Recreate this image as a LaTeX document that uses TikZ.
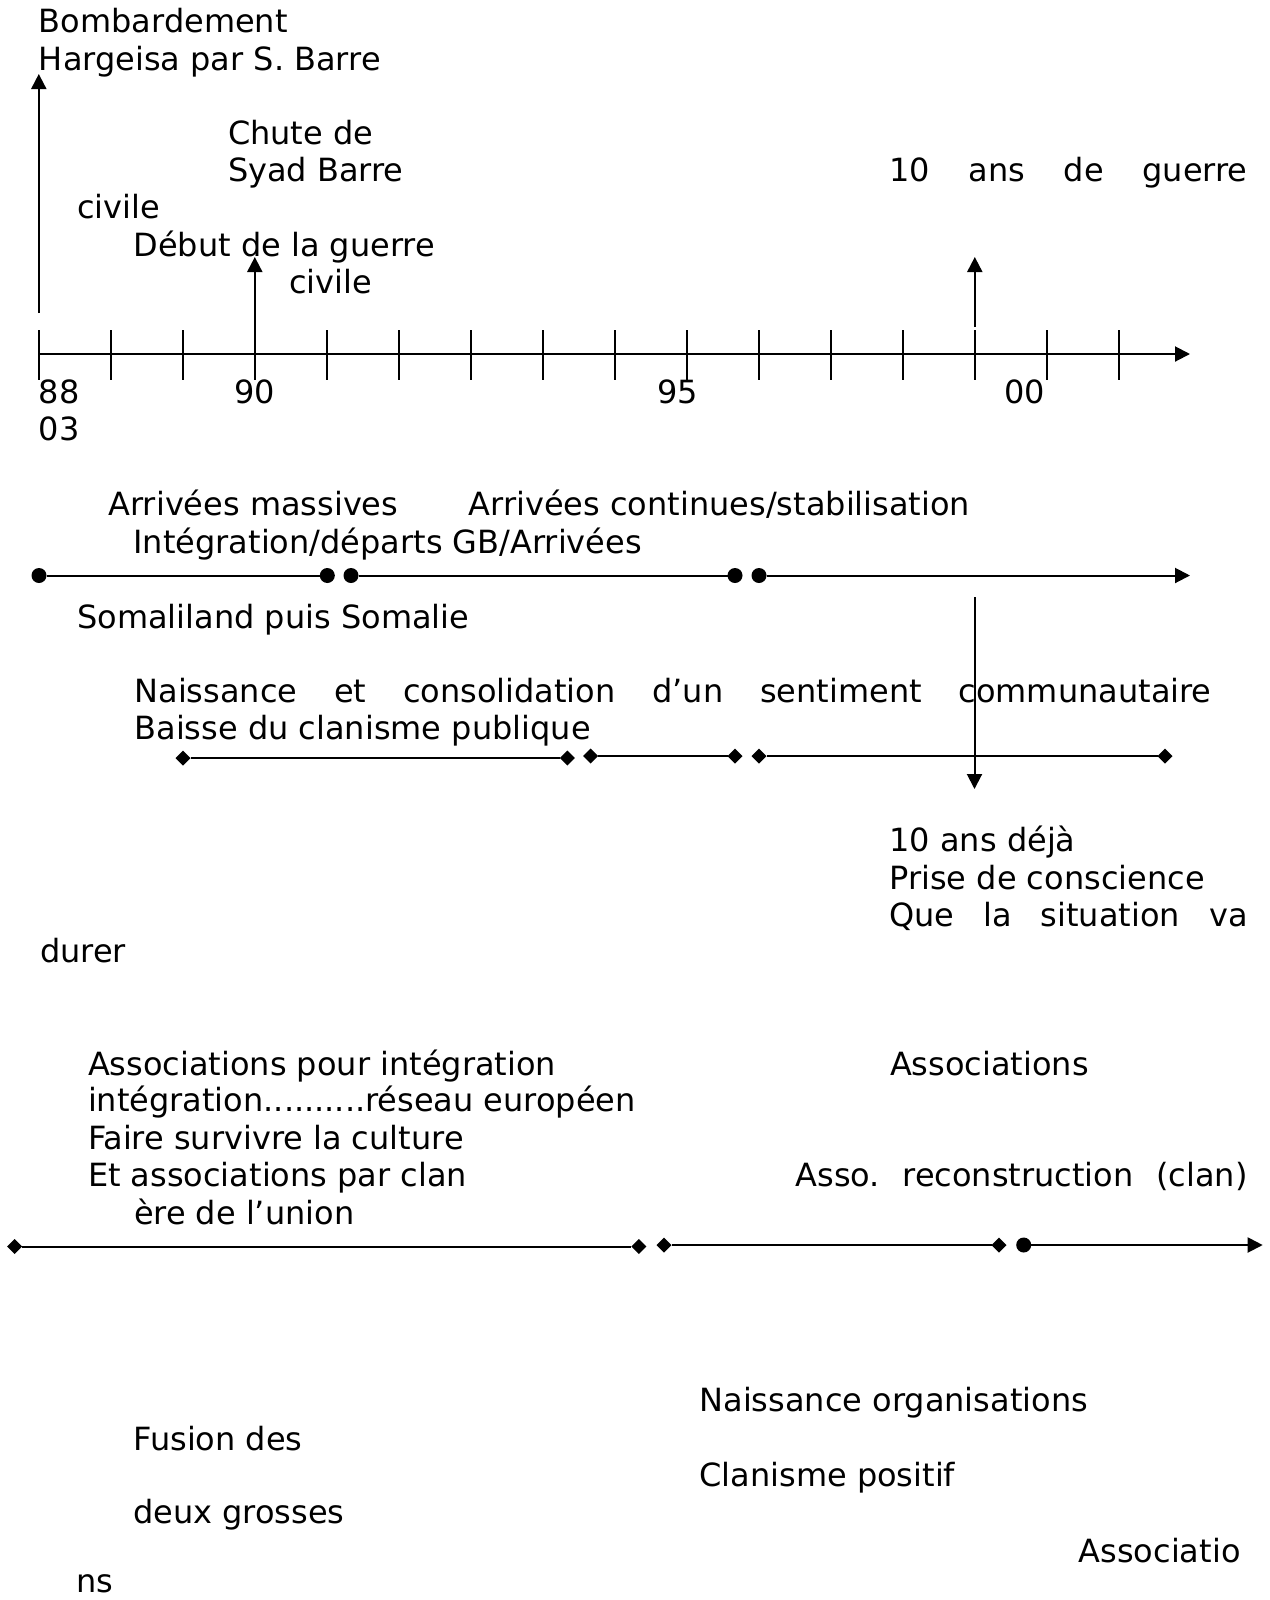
\documentclass[tikz,border=0pt]{standalone}
\usepackage{fontspec}
\setmainfont{DejaVu Sans}
\usetikzlibrary{arrows.meta, shapes.geometric}

\begin{document}
\frenchspacing
\begin{tikzpicture}[font=\fontsize{18.2}{21.5}\selectfont, line width=0.04cm,
    every node/.style={inner sep=0pt, outer sep=0pt},
    txt/.style={anchor=base west},
    dot/.style={circle, fill, minimum size=0.3cm},
    losange/.style={diamond, fill, minimum size=0.3cm},
    fleche/.style={-{Triangle[length=0.3cm, width=0.3cm]}}]
    \useasboundingbox (0,0) rectangle (25.4,-32);

    \node[txt] (bomb1) at (0.78, -0.646) {Bombardement};
    \node[txt] (bomb2) at (0.78, -1.40) {Hargeisa par S. Barre};
    \node[txt] (chute1) at (4.56, -2.88) {Chute de};
    \node[txt] (chute2) at (4.56, -3.634) {Syad Barre};
    \node[txt] (guerre1) at (17.79, -3.634) {\makebox[7.16cm][s]{10 ans de guerre}};
    \node[txt] (guerre2) at (1.54, -4.366) {civile};
    \node[txt] (debut1) at (2.67, -5.134) {Début de la guerre};
    \node[txt] (debut2) at (5.78, -5.866) {civile};

    \coordinate (a0) at (0.776, -7.08);
    \coordinate (a1) at (23.8, -7.08);
    \draw[fleche] (a0) -- (a1);
    \foreach \i in {0,...,15}
        \draw ({0.776+1.44*\i}, -6.6) -- ++(0, -1);
    \coordinate (f88a) at (0.776, -6.26);
    \coordinate (f88b) at (0.776, -1.48);
    \draw[fleche] (f88a) -- (f88b);
    \coordinate (f90a) at (5.096, -6.6);
    \coordinate (f90b) at (5.096, -5.14);
    \draw[fleche] (f90a) -- (f90b);
    \coordinate (f99a) at (19.496, -6.54);
    \coordinate (f99b) at (19.496, -5.14);
    \draw[fleche] (f99a) -- (f99b);

    \node[txt] (an88) at (0.78, -8.06) {88};
    \node[txt] (an03) at (0.78, -8.80) {03};
    \node[txt] (an90) at (4.68, -8.06) {90};
    \node[txt] (an95) at (13.14, -8.06) {95};
    \node[txt] (an00) at (20.09, -8.06) {00};

    \node[txt] (arr1) at (2.17, -10.30) {Arrivées massives};
    \node[txt] (arr2) at (9.376, -10.30) {Arrivées continues/stabilisation};
    \node[txt] (integ) at (2.67, -11.07) {Intégration/départs GB/Arrivées};

    \node[dot] (b1) at (0.78, -11.51) {};
    \node[dot] (b2) at (6.546, -11.51) {};
    \node[dot] (b3) at (7.02, -11.51) {};
    \node[dot] (b4) at (14.7, -11.51) {};
    \node[dot] (b5) at (15.18, -11.51) {};
    \coordinate (b6) at (23.8, -11.51);
    \draw (b1) -- (b2);
    \draw (b3) -- (b4);
    \draw[fleche] (b5) -- (b6);

    \node[txt] (soma) at (1.544, -12.566) {Somaliland puis Somalie};

    \coordinate (d0) at (19.49, -11.94);
    \coordinate (d1) at (19.49, -15.78);
    \draw[fleche] (d0) -- (d1);

    \node[txt] (naiss) at (2.69, -14.05) {\makebox[21.54cm][s]{Naissance et consolidation d’un sentiment communautaire}};
    \node[txt] (baisse) at (2.69, -14.78) {Baisse du clanisme publique};

    \node[losange] (c1) at (3.66, -15.16) {};
    \node[losange] (c2) at (11.346, -15.16) {};
    \node[losange] (c3) at (11.814, -15.12) {};
    \node[losange] (c4) at (14.7, -15.12) {};
    \node[losange] (c5) at (15.18, -15.12) {};
    \node[losange] (c6) at (23.3, -15.12) {};
    \draw (c1) -- (c2);
    \draw (c3) -- (c4);
    \draw (c5) -- (c6);

    \node[txt] (deja1) at (17.79, -17.034) {10 ans déjà};
    \node[txt] (deja2) at (17.79, -17.786) {Prise de conscience};
    \node[txt] (deja3) at (17.784, -18.52) {\makebox[7.17cm][s]{Que la situation va}};
    \node[txt] (deja4) at (0.80, -19.254) {durer};

    \node[txt] (asso1) at (1.76, -21.5) {Associations pour intégration};
    \node[txt] (asso2) at (1.76, -22.234) {intégration..........réseau européen};
    \node[txt] (asso3) at (1.76, -22.986) {Faire survivre la culture};
    \node[txt] (asso4) at (1.76, -23.734) {Et associations par clan};
    \node[txt] (asso5) at (2.68, -24.48) {ère de l’union};
    \node[txt] (asso6) at (17.80, -21.5) {Associations};
    \node[txt] (asso7) at (15.912, -23.734) {\makebox[9.04cm][s]{Asso. reconstruction (clan)}};

    \node[losange] (e1) at (0.294, -24.93) {};
    \node[losange] (e2) at (12.778, -24.93) {};
    \node[losange] (e3) at (13.28, -24.9) {};
    \node[losange] (e4) at (19.98, -24.9) {};
    \node[dot] (e5) at (20.474, -24.9) {};
    \coordinate (e6) at (25.254, -24.9);
    \draw (e1) -- (e2);
    \draw (e3) -- (e4);
    \draw[fleche] (e5) -- (e6);

    \node[txt] (orga1) at (13.99, -28.22) {Naissance organisations};
    \node[txt] (fus1) at (2.67, -29.0) {Fusion des};
    \node[txt] (orga2) at (13.99, -29.72) {Clanisme positif};
    \node[txt] (fus2) at (2.664, -30.47) {deux grosses};
    \node[txt] (fus3) at (21.574, -31.24) {Associatio};
    \node[txt] (fus4) at (1.52, -31.84) {ns};
\end{tikzpicture}
\end{document}
